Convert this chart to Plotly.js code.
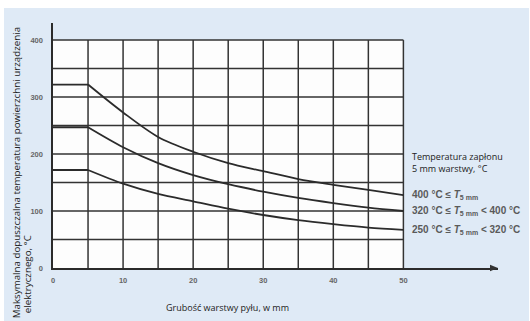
<!DOCTYPE html>
<html>
<head>
<meta charset="utf-8">
<script src="https://cdn.plot.ly/plotly-3.0.1.min.js"></script>
<style>
html,body{margin:0;padding:0;background:#ffffff;width:530px;height:321px;overflow:hidden;}
#chart{position:absolute;left:4px;top:8px;width:525px;height:313px;}
</style>
</head>
<body>
<div id="chart"></div>
<script>
// Data
const thickness = [0, 5, 10, 15, 20, 25, 30, 35, 40, 45, 50];
const tempHigh  = [322, 322, 273, 230, 204, 184, 170, 156, 146, 137, 128];
const tempMid   = [247, 247, 212, 184, 163, 147, 134, 123, 114, 106, 100];
const tempLow   = [172, 172, 148, 130, 117, 104, 93, 84, 77, 71, 67];

const seriesLabels = [
  "400 °C ≤ <i>T</i><sub>5 mm</sub>",
  "320 °C ≤ <i>T</i><sub>5 mm</sub> < 400 °C",
  "250 °C ≤ <i>T</i><sub>5 mm</sub> < 320 °C"
];
const legendTitle = "Temperatura zapłonu<br>5 mm warstwy, °C";
const xTitle = "Grubość warstwy pyłu, w mm";
const yTitleLine1 = "Maksymalna dopuszczalna temperatura powierzchni urządzenia";
const yTitleLine2 = "elektrycznego, °C";
const xTicks = [0, 10, 20, 30, 40, 50];
const yTicks = [0, 100, 200, 300, 400];
const xGrid = [5, 10, 15, 20, 25, 30, 35, 40, 45, 50];
const yGrid = [50, 100, 150, 200, 250, 300, 350, 400];

const series = [tempHigh, tempMid, tempLow];
const lineColor = "#2b2b2b";
const gridColor = "#333333";
const xMax = thickness[thickness.length - 1];
const yMax = yGrid[yGrid.length - 1];

const traces = [];
series.forEach(s => {
  // flat part (up to 5 mm)
  traces.push({type: "scatter", mode: "lines", x: thickness.slice(0, 2), y: s.slice(0, 2),
    line: {color: lineColor, width: 1.8}, hoverinfo: "skip", showlegend: false});
  // decreasing part
  traces.push({type: "scatter", mode: "lines", x: thickness.slice(1), y: s.slice(1),
    line: {color: lineColor, width: 1.8, shape: "spline", smoothing: 0.9},
    hoverinfo: "skip", showlegend: false});
});

const shapes = [];
shapes.push({type: "rect", xref: "x", yref: "y", x0: 0, x1: xMax, y0: 0, y1: yMax,
  fillcolor: "#fdfdfd", line: {width: 0}, layer: "below"});
xGrid.forEach(v => shapes.push({type: "line", xref: "x", yref: "y", x0: v, x1: v, y0: 0, y1: yMax,
  line: {color: gridColor, width: 1.5}, layer: "below"}));
yGrid.forEach(v => shapes.push({type: "line", xref: "x", yref: "y", x0: 0, x1: xMax, y0: v, y1: v,
  line: {color: gridColor, width: 1.5}, layer: "below"}));
// arrow head at end of x axis
shapes.push({type: "path", xref: "paper", yref: "paper",
  path: "M 1.0 0 L 0.982 0.013 L 0.982 -0.013 Z", fillcolor: "#333", line: {width: 0}});

const annotations = [];
annotations.push({xref: "paper", yref: "paper", x: 0.8022, y: 0.432, xanchor: "left", yanchor: "middle",
  text: legendTitle, showarrow: false, align: "left",
  font: {family: "Open Sans", size: 9, color: "#222"}});
series.forEach((s, i) => annotations.push({xref: "paper", yref: "y", x: 0.8022, y: s[s.length - 1],
  xanchor: "left", yanchor: "middle", text: seriesLabels[i], showarrow: false,
  font: {family: "Liberation Sans", size: 10, color: "#5a5a5a", weight: "bold"}}));
annotations.push({xref: "paper", yref: "paper", x: 0.392, y: -0.162, xanchor: "center", yanchor: "middle",
  text: xTitle, showarrow: false, font: {family: "Open Sans", size: 9, color: "#222"}});
annotations.push({xref: "paper", yref: "paper", x: -0.082, y: 0.389, xanchor: "center", yanchor: "middle",
  text: yTitleLine1, showarrow: false, textangle: -90,
  font: {family: "Open Sans", size: 9.75, color: "#222"}});
annotations.push({xref: "paper", yref: "paper", x: -0.0571, y: -0.027, xanchor: "center", yanchor: "middle",
  text: yTitleLine2, showarrow: false, textangle: -90,
  font: {family: "Open Sans", size: 9.75, color: "#222"}});

const layout = {
  width: 525, height: 313,
  margin: {l: 49, r: 31, t: 15, b: 53, pad: 0},
  paper_bgcolor: "#dfeaf6",
  plot_bgcolor: "rgba(0,0,0,0)",
  showlegend: false,
  xaxis: {range: [0, 63.5], tickvals: xTicks, showgrid: false, zeroline: false,
    showline: true, linecolor: "#2b2b2b", linewidth: 1.6, ticks: "", ticklabelstandoff: 4,
    tickfont: {family: "Liberation Sans", size: 7.5, color: "#666", weight: "bold"}, fixedrange: true},
  yaxis: {range: [0, 430], tickvals: yTicks, showgrid: false, zeroline: false,
    showline: true, linecolor: "#2b2b2b", linewidth: 1.6, ticks: "", ticklabelstandoff: 7,
    tickfont: {family: "Liberation Sans", size: 7.5, color: "#666", weight: "bold"}, fixedrange: true},
  shapes: shapes,
  annotations: annotations
};

Plotly.newPlot("chart", traces, layout, {displayModeBar: false, staticPlot: true});
</script>
</body>
</html>
